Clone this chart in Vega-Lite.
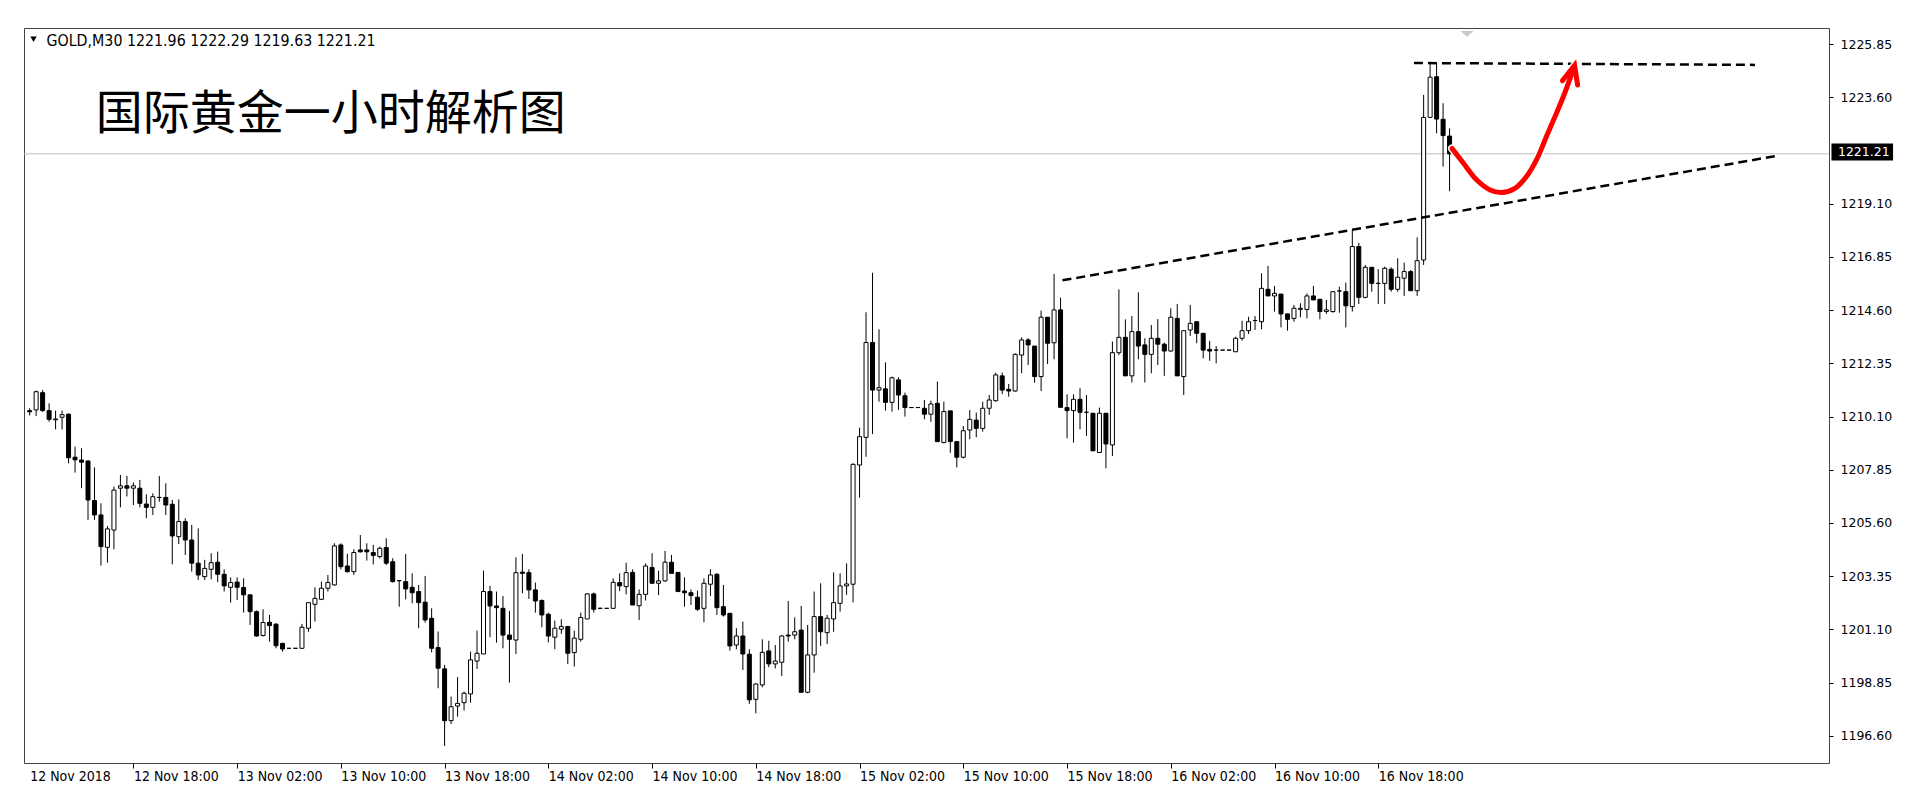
{
  "$schema": "https://vega.github.io/schema/vega-lite/v6.json",
  "width": 1805,
  "height": 735,
  "autosize": {"type": "none"},
  "padding": {"left": 24, "top": 28, "right": 91, "bottom": 49},
  "background": "#ffffff",
  "config": {"view": {"stroke": "#444444", "strokeWidth": 1}},
  "datasets": {
    "bars": [
      {"i":0,"o":1210.35,"h":1210.45,"l":1210.15,"c":1210.30},
      {"i":1,"o":1210.38,"h":1211.20,"l":1210.12,"c":1211.15},
      {"i":2,"o":1211.11,"h":1211.22,"l":1210.30,"c":1210.35},
      {"i":3,"o":1210.35,"h":1210.66,"l":1209.88,"c":1209.98},
      {"i":4,"o":1209.96,"h":1210.35,"l":1209.56,"c":1210.00},
      {"i":5,"o":1210.07,"h":1210.35,"l":1209.56,"c":1210.18},
      {"i":6,"o":1210.20,"h":1210.23,"l":1208.12,"c":1208.36},
      {"i":7,"o":1208.38,"h":1208.83,"l":1207.73,"c":1208.27},
      {"i":8,"o":1208.26,"h":1208.76,"l":1207.07,"c":1208.17},
      {"i":9,"o":1208.22,"h":1208.25,"l":1205.73,"c":1206.57},
      {"i":10,"o":1206.55,"h":1207.95,"l":1205.73,"c":1205.94},
      {"i":11,"o":1205.94,"h":1206.43,"l":1203.80,"c":1204.60},
      {"i":12,"o":1204.57,"h":1205.47,"l":1203.92,"c":1205.35},
      {"i":13,"o":1205.30,"h":1207.14,"l":1204.49,"c":1206.99},
      {"i":14,"o":1207.07,"h":1207.63,"l":1206.26,"c":1207.17},
      {"i":15,"o":1207.17,"h":1207.59,"l":1206.72,"c":1207.07},
      {"i":16,"o":1207.07,"h":1207.31,"l":1206.36,"c":1207.17},
      {"i":17,"o":1207.07,"h":1207.42,"l":1206.26,"c":1206.43},
      {"i":18,"o":1206.40,"h":1206.81,"l":1205.80,"c":1206.26},
      {"i":19,"o":1206.26,"h":1206.85,"l":1205.94,"c":1206.71},
      {"i":20,"o":1206.68,"h":1207.59,"l":1206.50,"c":1206.68},
      {"i":21,"o":1206.68,"h":1207.28,"l":1205.94,"c":1206.36},
      {"i":22,"o":1206.39,"h":1206.57,"l":1203.85,"c":1205.05},
      {"i":23,"o":1205.02,"h":1206.60,"l":1204.71,"c":1205.66},
      {"i":24,"o":1205.66,"h":1205.80,"l":1204.25,"c":1204.88},
      {"i":25,"o":1204.88,"h":1205.52,"l":1203.54,"c":1203.90},
      {"i":26,"o":1203.90,"h":1205.37,"l":1203.19,"c":1203.40},
      {"i":27,"o":1203.33,"h":1204.04,"l":1203.19,"c":1203.68},
      {"i":28,"o":1203.64,"h":1204.32,"l":1203.22,"c":1203.92},
      {"i":29,"o":1203.94,"h":1204.39,"l":1203.10,"c":1203.43},
      {"i":30,"o":1203.43,"h":1203.64,"l":1202.70,"c":1202.94},
      {"i":31,"o":1202.88,"h":1203.30,"l":1202.23,"c":1203.08},
      {"i":32,"o":1203.10,"h":1203.30,"l":1202.34,"c":1202.88},
      {"i":33,"o":1202.87,"h":1203.26,"l":1201.81,"c":1202.56},
      {"i":34,"o":1202.56,"h":1202.58,"l":1201.29,"c":1201.85},
      {"i":35,"o":1201.85,"h":1201.90,"l":1200.80,"c":1200.82},
      {"i":36,"o":1200.84,"h":1201.95,"l":1200.80,"c":1201.39},
      {"i":37,"o":1201.40,"h":1201.71,"l":1200.58,"c":1201.26},
      {"i":38,"o":1201.32,"h":1201.36,"l":1200.30,"c":1200.41},
      {"i":39,"o":1200.51,"h":1200.51,"l":1200.16,"c":1200.27},
      {"i":40,"o":1200.30,"h":1200.30,"l":1200.30,"c":1200.30},
      {"i":41,"o":1200.30,"h":1200.30,"l":1200.30,"c":1200.30},
      {"i":42,"o":1200.30,"h":1201.33,"l":1200.28,"c":1201.19},
      {"i":43,"o":1201.15,"h":1202.25,"l":1201.00,"c":1202.23},
      {"i":44,"o":1202.16,"h":1202.88,"l":1201.43,"c":1202.41},
      {"i":45,"o":1202.37,"h":1203.12,"l":1202.34,"c":1202.84},
      {"i":46,"o":1202.84,"h":1203.40,"l":1202.70,"c":1203.08},
      {"i":47,"o":1202.98,"h":1204.74,"l":1202.95,"c":1204.63},
      {"i":48,"o":1204.67,"h":1204.74,"l":1203.64,"c":1203.75},
      {"i":49,"o":1203.78,"h":1204.29,"l":1203.50,"c":1203.54},
      {"i":50,"o":1203.54,"h":1204.49,"l":1203.40,"c":1204.35},
      {"i":51,"o":1204.46,"h":1205.09,"l":1204.35,"c":1204.38},
      {"i":52,"o":1204.46,"h":1204.74,"l":1204.01,"c":1204.38},
      {"i":53,"o":1204.35,"h":1204.67,"l":1203.85,"c":1204.23},
      {"i":54,"o":1204.18,"h":1204.60,"l":1204.10,"c":1204.53},
      {"i":55,"o":1204.56,"h":1204.95,"l":1203.82,"c":1203.90},
      {"i":56,"o":1203.96,"h":1204.11,"l":1203.08,"c":1203.12},
      {"i":57,"o":1203.16,"h":1203.19,"l":1202.06,"c":1203.16},
      {"i":58,"o":1203.12,"h":1204.29,"l":1202.37,"c":1202.81},
      {"i":59,"o":1202.88,"h":1203.47,"l":1202.20,"c":1202.65},
      {"i":60,"o":1202.70,"h":1202.98,"l":1201.15,"c":1202.23},
      {"i":61,"o":1202.25,"h":1203.36,"l":1201.39,"c":1201.50},
      {"i":62,"o":1201.57,"h":1201.99,"l":1200.13,"c":1200.30},
      {"i":63,"o":1200.33,"h":1201.01,"l":1198.61,"c":1199.46},
      {"i":64,"o":1199.43,"h":1199.60,"l":1196.17,"c":1197.24},
      {"i":65,"o":1197.24,"h":1198.26,"l":1197.10,"c":1197.83},
      {"i":66,"o":1197.86,"h":1199.08,"l":1197.41,"c":1197.97},
      {"i":67,"o":1198.00,"h":1198.47,"l":1197.67,"c":1198.40},
      {"i":68,"o":1198.37,"h":1200.16,"l":1198.00,"c":1199.81},
      {"i":69,"o":1199.76,"h":1201.05,"l":1199.43,"c":1200.09},
      {"i":70,"o":1200.06,"h":1203.58,"l":1200.06,"c":1202.70},
      {"i":71,"o":1202.70,"h":1202.94,"l":1200.77,"c":1202.09},
      {"i":72,"o":1202.09,"h":1202.70,"l":1200.54,"c":1202.02},
      {"i":73,"o":1201.99,"h":1202.51,"l":1200.30,"c":1200.86},
      {"i":74,"o":1200.86,"h":1201.88,"l":1198.85,"c":1200.68},
      {"i":75,"o":1200.65,"h":1204.15,"l":1200.06,"c":1203.50},
      {"i":76,"o":1203.52,"h":1204.29,"l":1202.63,"c":1203.47},
      {"i":77,"o":1203.50,"h":1203.64,"l":1202.39,"c":1202.77},
      {"i":78,"o":1202.77,"h":1203.08,"l":1201.81,"c":1202.30},
      {"i":79,"o":1202.32,"h":1202.37,"l":1201.19,"c":1201.71},
      {"i":80,"o":1201.74,"h":1201.81,"l":1200.55,"c":1200.82},
      {"i":81,"o":1200.77,"h":1201.47,"l":1200.26,"c":1201.15},
      {"i":82,"o":1201.11,"h":1201.53,"l":1200.91,"c":1201.22},
      {"i":83,"o":1201.22,"h":1201.25,"l":1199.64,"c":1200.09},
      {"i":84,"o":1200.12,"h":1201.05,"l":1199.53,"c":1200.73},
      {"i":85,"o":1200.68,"h":1201.81,"l":1200.58,"c":1201.60},
      {"i":86,"o":1201.54,"h":1202.63,"l":1201.54,"c":1202.60},
      {"i":87,"o":1202.60,"h":1202.66,"l":1201.81,"c":1201.95},
      {"i":88,"o":1201.99,"h":1202.02,"l":1201.95,"c":1201.99},
      {"i":89,"o":1201.99,"h":1201.99,"l":1201.99,"c":1201.99},
      {"i":90,"o":1201.99,"h":1203.26,"l":1201.96,"c":1203.09},
      {"i":91,"o":1203.08,"h":1203.47,"l":1202.72,"c":1202.94},
      {"i":92,"o":1202.91,"h":1203.92,"l":1202.58,"c":1203.50},
      {"i":93,"o":1203.51,"h":1203.64,"l":1202.13,"c":1202.13},
      {"i":94,"o":1202.10,"h":1202.79,"l":1201.50,"c":1202.58},
      {"i":95,"o":1202.58,"h":1203.89,"l":1202.32,"c":1203.78},
      {"i":96,"o":1203.72,"h":1204.32,"l":1203.05,"c":1203.05},
      {"i":97,"o":1203.05,"h":1203.58,"l":1202.55,"c":1203.15},
      {"i":98,"o":1203.15,"h":1204.42,"l":1203.12,"c":1203.94},
      {"i":99,"o":1203.94,"h":1204.25,"l":1203.47,"c":1203.47},
      {"i":100,"o":1203.51,"h":1203.51,"l":1202.70,"c":1202.70},
      {"i":101,"o":1202.72,"h":1203.30,"l":1202.06,"c":1202.65},
      {"i":102,"o":1202.65,"h":1202.79,"l":1202.13,"c":1202.53},
      {"i":103,"o":1202.46,"h":1202.74,"l":1201.88,"c":1201.95},
      {"i":104,"o":1201.99,"h":1203.26,"l":1201.40,"c":1203.05},
      {"i":105,"o":1203.01,"h":1203.64,"l":1202.51,"c":1203.40},
      {"i":106,"o":1203.43,"h":1203.47,"l":1201.71,"c":1202.02},
      {"i":107,"o":1202.06,"h":1202.98,"l":1201.64,"c":1201.71},
      {"i":108,"o":1201.78,"h":1201.78,"l":1200.20,"c":1200.40},
      {"i":109,"o":1200.44,"h":1201.15,"l":1200.26,"c":1200.82},
      {"i":110,"o":1200.82,"h":1201.43,"l":1199.38,"c":1200.06},
      {"i":111,"o":1200.05,"h":1200.26,"l":1197.95,"c":1198.12},
      {"i":112,"o":1198.14,"h":1198.82,"l":1197.55,"c":1198.79},
      {"i":113,"o":1198.75,"h":1200.68,"l":1198.65,"c":1200.13},
      {"i":114,"o":1200.19,"h":1200.62,"l":1199.50,"c":1199.64},
      {"i":115,"o":1199.64,"h":1200.44,"l":1199.45,"c":1199.76},
      {"i":116,"o":1199.71,"h":1200.86,"l":1199.13,"c":1200.82},
      {"i":117,"o":1200.86,"h":1202.30,"l":1200.58,"c":1200.82},
      {"i":118,"o":1200.86,"h":1201.61,"l":1200.68,"c":1201.00},
      {"i":119,"o":1201.07,"h":1202.09,"l":1198.44,"c":1198.44},
      {"i":120,"o":1198.44,"h":1201.29,"l":1198.40,"c":1200.02},
      {"i":121,"o":1200.02,"h":1202.70,"l":1199.27,"c":1201.64},
      {"i":122,"o":1201.64,"h":1203.05,"l":1200.40,"c":1201.00},
      {"i":123,"o":1200.96,"h":1201.71,"l":1200.48,"c":1201.57},
      {"i":124,"o":1201.54,"h":1203.51,"l":1201.00,"c":1202.23},
      {"i":125,"o":1202.20,"h":1203.47,"l":1201.85,"c":1202.94},
      {"i":126,"o":1202.94,"h":1203.89,"l":1202.56,"c":1203.02},
      {"i":127,"o":1203.01,"h":1208.12,"l":1202.24,"c":1208.08},
      {"i":128,"o":1208.05,"h":1209.63,"l":1206.67,"c":1209.25},
      {"i":129,"o":1209.22,"h":1214.51,"l":1208.40,"c":1213.23},
      {"i":130,"o":1213.23,"h":1216.18,"l":1209.36,"c":1211.22},
      {"i":131,"o":1211.22,"h":1213.79,"l":1210.73,"c":1211.32},
      {"i":132,"o":1211.27,"h":1212.39,"l":1210.35,"c":1210.70},
      {"i":133,"o":1210.70,"h":1211.79,"l":1210.31,"c":1211.74},
      {"i":134,"o":1211.65,"h":1211.76,"l":1210.38,"c":1211.01},
      {"i":135,"o":1210.98,"h":1211.11,"l":1210.10,"c":1210.48},
      {"i":136,"o":1210.48,"h":1210.48,"l":1210.48,"c":1210.48},
      {"i":137,"o":1210.48,"h":1210.48,"l":1210.48,"c":1210.48},
      {"i":138,"o":1210.45,"h":1210.80,"l":1209.98,"c":1210.20},
      {"i":139,"o":1210.20,"h":1210.77,"l":1209.88,"c":1210.63},
      {"i":140,"o":1210.66,"h":1211.58,"l":1209.04,"c":1209.04},
      {"i":141,"o":1209.00,"h":1210.73,"l":1208.97,"c":1210.31},
      {"i":142,"o":1210.34,"h":1210.34,"l":1208.57,"c":1209.04},
      {"i":143,"o":1209.04,"h":1209.04,"l":1207.95,"c":1208.38},
      {"i":144,"o":1208.38,"h":1209.70,"l":1208.33,"c":1209.50},
      {"i":145,"o":1209.53,"h":1210.38,"l":1209.14,"c":1209.98},
      {"i":146,"o":1209.95,"h":1210.27,"l":1209.22,"c":1209.60},
      {"i":147,"o":1209.60,"h":1210.73,"l":1209.46,"c":1210.45},
      {"i":148,"o":1210.45,"h":1211.01,"l":1210.17,"c":1210.80},
      {"i":149,"o":1210.77,"h":1211.96,"l":1210.73,"c":1211.86},
      {"i":150,"o":1211.82,"h":1211.96,"l":1211.05,"c":1211.22},
      {"i":151,"o":1211.25,"h":1211.48,"l":1210.94,"c":1211.18},
      {"i":152,"o":1211.18,"h":1212.77,"l":1211.15,"c":1212.73},
      {"i":153,"o":1212.70,"h":1213.45,"l":1211.93,"c":1213.34},
      {"i":154,"o":1213.34,"h":1213.41,"l":1212.28,"c":1213.13},
      {"i":155,"o":1213.08,"h":1213.08,"l":1211.53,"c":1211.79},
      {"i":156,"o":1211.79,"h":1214.58,"l":1211.18,"c":1214.30},
      {"i":157,"o":1214.30,"h":1214.30,"l":1212.32,"c":1213.20},
      {"i":158,"o":1213.22,"h":1216.13,"l":1212.52,"c":1214.61},
      {"i":159,"o":1214.61,"h":1215.13,"l":1210.49,"c":1210.49},
      {"i":160,"o":1210.48,"h":1211.04,"l":1209.18,"c":1210.35},
      {"i":161,"o":1210.35,"h":1211.04,"l":1209.00,"c":1210.83},
      {"i":162,"o":1210.83,"h":1211.30,"l":1209.56,"c":1210.28},
      {"i":163,"o":1210.28,"h":1211.01,"l":1209.28,"c":1210.28},
      {"i":164,"o":1210.24,"h":1210.24,"l":1208.65,"c":1208.65},
      {"i":165,"o":1208.58,"h":1210.48,"l":1208.58,"c":1210.24},
      {"i":166,"o":1210.24,"h":1210.24,"l":1207.91,"c":1208.94},
      {"i":167,"o":1208.90,"h":1213.27,"l":1208.43,"c":1212.80},
      {"i":168,"o":1212.80,"h":1215.48,"l":1212.70,"c":1213.45},
      {"i":169,"o":1213.45,"h":1214.21,"l":1211.82,"c":1211.82},
      {"i":170,"o":1211.82,"h":1214.35,"l":1211.54,"c":1213.69},
      {"i":171,"o":1213.69,"h":1215.35,"l":1212.52,"c":1213.08},
      {"i":172,"o":1213.13,"h":1213.41,"l":1211.54,"c":1212.73},
      {"i":173,"o":1212.73,"h":1213.97,"l":1211.93,"c":1213.41},
      {"i":174,"o":1213.41,"h":1214.22,"l":1212.28,"c":1213.16},
      {"i":175,"o":1213.16,"h":1213.23,"l":1211.82,"c":1212.87},
      {"i":176,"o":1212.87,"h":1214.68,"l":1212.84,"c":1214.30},
      {"i":177,"o":1214.25,"h":1214.86,"l":1211.82,"c":1211.82},
      {"i":178,"o":1211.79,"h":1213.73,"l":1211.01,"c":1213.73},
      {"i":179,"o":1213.76,"h":1214.82,"l":1213.51,"c":1214.04},
      {"i":180,"o":1214.11,"h":1214.14,"l":1213.20,"c":1213.62},
      {"i":181,"o":1213.62,"h":1213.62,"l":1212.56,"c":1212.91},
      {"i":182,"o":1212.94,"h":1213.30,"l":1212.46,"c":1212.87},
      {"i":183,"o":1212.91,"h":1213.08,"l":1212.35,"c":1212.91},
      {"i":184,"o":1212.91,"h":1212.91,"l":1212.91,"c":1212.91},
      {"i":185,"o":1212.91,"h":1212.91,"l":1212.91,"c":1212.91},
      {"i":186,"o":1212.84,"h":1213.48,"l":1212.84,"c":1213.41},
      {"i":187,"o":1213.41,"h":1214.15,"l":1213.31,"c":1213.73},
      {"i":188,"o":1213.73,"h":1214.32,"l":1213.59,"c":1214.11},
      {"i":189,"o":1214.16,"h":1214.35,"l":1213.76,"c":1214.16},
      {"i":190,"o":1214.11,"h":1216.16,"l":1213.79,"c":1215.52},
      {"i":191,"o":1215.48,"h":1216.47,"l":1215.20,"c":1215.20},
      {"i":192,"o":1215.20,"h":1215.62,"l":1214.54,"c":1215.31},
      {"i":193,"o":1215.28,"h":1215.28,"l":1213.87,"c":1214.44},
      {"i":194,"o":1214.44,"h":1214.44,"l":1213.73,"c":1214.21},
      {"i":195,"o":1214.25,"h":1214.82,"l":1214.11,"c":1214.68},
      {"i":196,"o":1214.63,"h":1214.89,"l":1214.30,"c":1214.68},
      {"i":197,"o":1214.63,"h":1215.31,"l":1214.25,"c":1215.20},
      {"i":198,"o":1215.20,"h":1215.62,"l":1215.03,"c":1215.03},
      {"i":199,"o":1215.06,"h":1215.06,"l":1214.21,"c":1214.54},
      {"i":200,"o":1214.54,"h":1215.03,"l":1214.44,"c":1214.61},
      {"i":201,"o":1214.54,"h":1215.41,"l":1214.49,"c":1215.38},
      {"i":202,"o":1215.41,"h":1215.59,"l":1214.49,"c":1215.41},
      {"i":203,"o":1215.38,"h":1215.76,"l":1213.87,"c":1214.78},
      {"i":204,"o":1214.75,"h":1217.99,"l":1214.54,"c":1217.29},
      {"i":205,"o":1217.29,"h":1217.45,"l":1214.86,"c":1215.14},
      {"i":206,"o":1215.14,"h":1216.51,"l":1215.10,"c":1216.41},
      {"i":207,"o":1216.41,"h":1216.41,"l":1215.38,"c":1215.73},
      {"i":208,"o":1215.73,"h":1216.33,"l":1214.86,"c":1215.73},
      {"i":209,"o":1215.73,"h":1216.44,"l":1214.86,"c":1216.37},
      {"i":210,"o":1216.33,"h":1216.41,"l":1215.38,"c":1215.48},
      {"i":211,"o":1215.48,"h":1216.79,"l":1215.38,"c":1215.99},
      {"i":212,"o":1215.95,"h":1216.61,"l":1215.20,"c":1216.23},
      {"i":213,"o":1216.23,"h":1216.30,"l":1215.42,"c":1215.42},
      {"i":214,"o":1215.42,"h":1217.68,"l":1215.20,"c":1216.69},
      {"i":215,"o":1216.72,"h":1223.70,"l":1216.51,"c":1222.75},
      {"i":216,"o":1222.75,"h":1225.04,"l":1222.75,"c":1224.45},
      {"i":217,"o":1224.47,"h":1225.04,"l":1222.08,"c":1222.68},
      {"i":218,"o":1222.67,"h":1223.35,"l":1220.67,"c":1221.98},
      {"i":219,"o":1221.96,"h":1222.29,"l":1219.63,"c":1221.21}
    ],
    "lines": [
      {"g":"top","i":213.5,"p":1225.05},
      {"g":"top","i":266.1,"p":1224.97},
      {"g":"trend","i":159.3,"p":1215.86},
      {"g":"trend","i":269.8,"p":1221.14}
    ],
    "curve": [
      {"k":0,"i":219.37,"p":1221.44},
      {"k":1,"i":221.15,"p":1220.81},
      {"k":2,"i":223.2,"p":1220.1},
      {"k":3,"i":225.25,"p":1219.68},
      {"k":4,"i":227.03,"p":1219.57},
      {"k":5,"i":229.08,"p":1219.75},
      {"k":6,"i":230.87,"p":1220.25},
      {"k":7,"i":232.4,"p":1220.95},
      {"k":8,"i":233.94,"p":1221.94},
      {"k":9,"i":235.47,"p":1222.92},
      {"k":10,"i":236.75,"p":1223.77},
      {"k":11,"i":238.03,"p":1224.75}
    ],
    "arrow": [
      {"k":0,"i":236.4,"p":1224.3},
      {"k":1,"i":238.28,"p":1224.95},
      {"k":2,"i":238.75,"p":1224.12}
    ]
  },
  "layer": [
    {
      "data": {"values": [{"p": 1221.21}]},
      "mark": {"type": "rule", "color": "#c0c0c0", "strokeWidth": 1},
      "encoding": {
        "y": {"field": "p", "type": "quantitative", "scale": {"domain": [1195.45, 1226.53], "nice": false, "zero": false}}
      }
    },
    {
      "data": {"name": "bars"},
      "mark": {"type": "rule", "color": "#000000", "strokeWidth": 1},
      "encoding": {
        "x": {"field": "i", "type": "quantitative", "scale": {"domain": [-0.1, 276.75], "nice": false, "zero": false},
          "axis": {"orient": "bottom", "title": null, "grid": false, "domain": false,
            "values": [0,16,32,48,64,80,96,112,128,144,160,176,192,208],
            "labelExpr": "['12 Nov 2018','12 Nov 18:00','13 Nov 02:00','13 Nov 10:00','13 Nov 18:00','14 Nov 02:00','14 Nov 10:00','14 Nov 18:00','15 Nov 02:00','15 Nov 10:00','15 Nov 18:00','16 Nov 02:00','16 Nov 10:00','16 Nov 18:00'][round(datum.value/16)]",
            "labelAlign": "left", "labelDx": 1, "labelPadding": 1, "labelFont": "DejaVu Sans Condensed", "labelFontSize": 14,
            "labelColor": "#000000", "labelOverlap": false, "labelBound": false, "labelFlush": false,
            "tickColor": "#000000", "tickSize": 5,
            "tickOpacity": {"condition": {"test": "datum.value === 0", "value": 0}, "value": 1}}},
        "y": {"field": "l", "type": "quantitative", "scale": {"domain": [1195.45, 1226.53], "nice": false, "zero": false},
          "axis": {"orient": "right", "title": null, "grid": false, "domain": false,
            "values": [1196.60,1198.85,1201.10,1203.35,1205.60,1207.85,1210.10,1212.35,1214.60,1216.85,1219.10,1223.60,1225.85],
            "format": ".2f", "labelFont": "DejaVu Sans", "labelFontSize": 12.5, "labelColor": "#000000",
            "labelPadding": 7, "tickSize": 4, "tickColor": "#000000", "labelBound": false, "labelFlush": false, "labelOverlap": false}},
        "y2": {"field": "h"}
      }
    },
    {
      "data": {"name": "bars"},
      "mark": {"type": "bar", "size": 4, "stroke": "#000000", "strokeWidth": 1},
      "encoding": {
        "x": {"field": "i", "type": "quantitative", "scale": {"domain": [-0.1, 276.75], "nice": false, "zero": false}},
        "y": {"field": "o", "type": "quantitative", "scale": {"domain": [1195.45, 1226.53], "nice": false, "zero": false}},
        "y2": {"field": "c"},
        "fill": {"condition": {"test": "datum.c > datum.o", "value": "#ffffff"}, "value": "#000000"}
      }
    },
    {
      "data": {"name": "lines"},
      "mark": {"type": "line", "color": "#000000", "strokeWidth": 2.5, "strokeDash": [9, 5]},
      "encoding": {
        "x": {"field": "i", "type": "quantitative", "scale": {"domain": [-0.1, 276.75], "nice": false, "zero": false}},
        "y": {"field": "p", "type": "quantitative", "scale": {"domain": [1195.45, 1226.53], "nice": false, "zero": false}},
        "detail": {"field": "g"}
      }
    },
    {
      "data": {"name": "curve"},
      "mark": {"type": "line", "color": "#ffffff", "strokeWidth": 8, "interpolate": "catmull-rom", "strokeCap": "round"},
      "encoding": {
        "x": {"field": "i", "type": "quantitative", "scale": {"domain": [-0.1, 276.75], "nice": false, "zero": false}},
        "y": {"field": "p", "type": "quantitative", "scale": {"domain": [1195.45, 1226.53], "nice": false, "zero": false}},
        "order": {"field": "k"}
      }
    },
    {
      "data": {"name": "arrow"},
      "mark": {"type": "line", "color": "#ffffff", "strokeWidth": 8, "strokeCap": "round", "strokeJoin": "miter"},
      "encoding": {
        "x": {"field": "i", "type": "quantitative", "scale": {"domain": [-0.1, 276.75], "nice": false, "zero": false}},
        "y": {"field": "p", "type": "quantitative", "scale": {"domain": [1195.45, 1226.53], "nice": false, "zero": false}},
        "order": {"field": "k"}
      }
    },
    {
      "data": {"name": "curve"},
      "mark": {"type": "line", "color": "#ff0000", "strokeWidth": 5, "interpolate": "catmull-rom", "strokeCap": "round"},
      "encoding": {
        "x": {"field": "i", "type": "quantitative", "scale": {"domain": [-0.1, 276.75], "nice": false, "zero": false}},
        "y": {"field": "p", "type": "quantitative", "scale": {"domain": [1195.45, 1226.53], "nice": false, "zero": false}},
        "order": {"field": "k"}
      }
    },
    {
      "data": {"name": "arrow"},
      "mark": {"type": "line", "color": "#ff0000", "strokeWidth": 5, "strokeCap": "round", "strokeJoin": "miter"},
      "encoding": {
        "x": {"field": "i", "type": "quantitative", "scale": {"domain": [-0.1, 276.75], "nice": false, "zero": false}},
        "y": {"field": "p", "type": "quantitative", "scale": {"domain": [1195.45, 1226.53], "nice": false, "zero": false}},
        "order": {"field": "k"}
      }
    },
    {
      "data": {"values": [{"i": 221.7, "p": 1226.28}]},
      "mark": {"type": "point", "shape": "M-1,-0.45L1,-0.45L0,0.45Z", "size": 169, "filled": true, "color": "#c8c8c8", "opacity": 1},
      "encoding": {
        "x": {"field": "i", "type": "quantitative", "scale": {"domain": [-0.1, 276.75], "nice": false, "zero": false}},
        "y": {"field": "p", "type": "quantitative", "scale": {"domain": [1195.45, 1226.53], "nice": false, "zero": false}}
      }
    },
    {
      "data": {"values": [{"i": 10.2, "p": 1222.84, "t": "国际黄金一小时解析图"}]},
      "mark": {"type": "text", "align": "left", "baseline": "middle", "font": "Noto Sans CJK SC", "fontSize": 47, "fontWeight": 400, "color": "#000000"},
      "encoding": {
        "x": {"field": "i", "type": "quantitative", "scale": {"domain": [-0.1, 276.75], "nice": false, "zero": false}},
        "y": {"field": "p", "type": "quantitative", "scale": {"domain": [1195.45, 1226.53], "nice": false, "zero": false}},
        "text": {"field": "t"}
      }
    },
    {
      "data": {"values": [{"i": 2.6, "p": 1226.0, "t": "GOLD,M30  1221.96 1222.29 1219.63 1221.21"}]},
      "mark": {"type": "text", "align": "left", "baseline": "middle", "font": "DejaVu Sans Condensed", "fontSize": 15.8, "color": "#000000"},
      "encoding": {
        "x": {"field": "i", "type": "quantitative", "scale": {"domain": [-0.1, 276.75], "nice": false, "zero": false}},
        "y": {"field": "p", "type": "quantitative", "scale": {"domain": [1195.45, 1226.53], "nice": false, "zero": false}},
        "text": {"field": "t"}
      }
    },
    {
      "data": {"values": [{"i": 0.6, "p": 1226.05}]},
      "mark": {"type": "point", "shape": "triangle-down", "size": 40, "filled": true, "color": "#000000", "opacity": 1},
      "encoding": {
        "x": {"field": "i", "type": "quantitative", "scale": {"domain": [-0.1, 276.75], "nice": false, "zero": false}},
        "y": {"field": "p", "type": "quantitative", "scale": {"domain": [1195.45, 1226.53], "nice": false, "zero": false}}
      }
    },
    {
      "data": {"values": [{"i": 277.9, "i2": 287.4, "p": 1221.65, "p2": 1220.93}]},
      "mark": {"type": "rect", "color": "#000000"},
      "encoding": {
        "x": {"field": "i", "type": "quantitative", "scale": {"domain": [-0.1, 276.75], "nice": false, "zero": false}},
        "x2": {"field": "i2"},
        "y": {"field": "p", "type": "quantitative", "scale": {"domain": [1195.45, 1226.53], "nice": false, "zero": false}},
        "y2": {"field": "p2"}
      }
    },
    {
      "data": {"values": [{"i": 278.9, "p": 1221.27, "t": "1221.21"}]},
      "mark": {"type": "text", "align": "left", "baseline": "middle", "font": "DejaVu Sans", "fontSize": 12.5, "color": "#ffffff"},
      "encoding": {
        "x": {"field": "i", "type": "quantitative", "scale": {"domain": [-0.1, 276.75], "nice": false, "zero": false}},
        "y": {"field": "p", "type": "quantitative", "scale": {"domain": [1195.45, 1226.53], "nice": false, "zero": false}},
        "text": {"field": "t"}
      }
    }
  ]
}
